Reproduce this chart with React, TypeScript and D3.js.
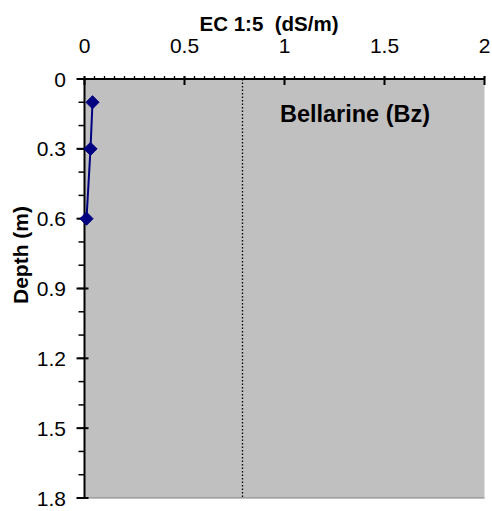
import React, { useEffect, useRef } from 'react';
import * as d3 from 'd3';

// EC 1:5 profile, Bellarine (Bz)
const depths = [0.1, 0.3, 0.6];
const ecValues = [0.04, 0.03, 0.01];
const xTicks = [0, 0.5, 1, 1.5, 2];
const yTicks = [0, 0.3, 0.6, 0.9, 1.2, 1.5, 1.8];
const refLine = 0.79;

const W = 492;
const H = 511;
const FONT = '"Liberation Sans", Arial, sans-serif';

const App: React.FC = () => {
  const svgRef = useRef<SVGSVGElement>(null);

  useEffect(() => {
    if (!svgRef.current) return;
    const el = svgRef.current;
    d3.select(el).selectAll('*').remove();
    const svg = d3.select(el);

    const left = 84.5;
    const right = 484.5;
    const top = 79;
    const bottom = 498;

    const x = d3.scaleLinear().domain([0, 2]).range([left, right]);
    const y = d3.scaleLinear().domain([0, 1.8]).range([top, bottom]);

    // Plot background
    svg
      .append('rect')
      .attr('x', left)
      .attr('y', top)
      .attr('width', right - left)
      .attr('height', bottom - top)
      .attr('fill', '#c0c0c0');

    // bottom edge
    svg
      .append('line')
      .attr('x1', left)
      .attr('x2', right)
      .attr('y1', bottom)
      .attr('y2', bottom)
      .attr('stroke', '#808080')
      .attr('stroke-width', 1);

    // Reference dotted line
    svg
      .append('line')
      .attr('x1', x(refLine))
      .attr('x2', x(refLine))
      .attr('y1', top)
      .attr('y2', bottom)
      .attr('stroke', '#000')
      .attr('stroke-width', 1.3)
      .attr('stroke-dasharray', '1.5,2');

    // Top axis (x)
    const minorX = d3.range(0, 2.0001, 0.05);
    svg
      .append('g')
      .selectAll('line')
      .data(minorX)
      .enter()
      .append('line')
      .attr('x1', (d) => x(d))
      .attr('x2', (d) => x(d))
      .attr('y1', top - 3)
      .attr('y2', top)
      .attr('stroke', '#000')
      .attr('stroke-width', 1.3);
    svg
      .append('g')
      .selectAll('line')
      .data(xTicks)
      .enter()
      .append('line')
      .attr('x1', (d) => x(d))
      .attr('x2', (d) => x(d))
      .attr('y1', top - 3)
      .attr('y2', top + 6)
      .attr('stroke', '#000')
      .attr('stroke-width', 2);
    svg
      .append('line')
      .attr('x1', left - 6)
      .attr('x2', right)
      .attr('y1', top)
      .attr('y2', top)
      .attr('stroke', '#000')
      .attr('stroke-width', 2);
    svg
      .append('g')
      .selectAll('text')
      .data(xTicks)
      .enter()
      .append('text')
      .attr('x', (d) => x(d))
      .attr('y', 53)
      .attr('text-anchor', 'middle')
      .attr('font-family', FONT)
      .attr('font-size', 21)
      .text((d) => String(d));

    // Left axis (y)
    const minorY = d3.range(0, 1.8001, 0.1);
    svg
      .append('g')
      .selectAll('line')
      .data(minorY)
      .enter()
      .append('line')
      .attr('x1', left - 6)
      .attr('x2', left)
      .attr('y1', (d) => y(d))
      .attr('y2', (d) => y(d))
      .attr('stroke', '#000')
      .attr('stroke-width', 1.5);
    svg
      .append('g')
      .selectAll('line')
      .data(yTicks)
      .enter()
      .append('line')
      .attr('x1', left - 8)
      .attr('x2', left + 4)
      .attr('y1', (d) => y(d))
      .attr('y2', (d) => y(d))
      .attr('stroke', '#000')
      .attr('stroke-width', 2);
    svg
      .append('line')
      .attr('x1', left)
      .attr('x2', left)
      .attr('y1', top)
      .attr('y2', bottom)
      .attr('stroke', '#000')
      .attr('stroke-width', 2);
    svg
      .append('g')
      .selectAll('text')
      .data(yTicks)
      .enter()
      .append('text')
      .attr('x', 66)
      .attr('y', (d) => y(d) + 7.5)
      .attr('text-anchor', 'end')
      .attr('font-family', FONT)
      .attr('font-size', 21)
      .text((d) => String(d));

    // Axis titles
    svg
      .append('text')
      .attr('x', 269)
      .attr('y', 30.5)
      .attr('text-anchor', 'middle')
      .attr('font-family', FONT)
      .attr('font-weight', 'bold')
      .attr('font-size', 20.5)
      .style('white-space', 'pre')
      .text('EC 1:5  (dS/m)');
    svg
      .append('text')
      .attr('transform', `translate(28,255) rotate(-90)`)
      .attr('text-anchor', 'middle')
      .attr('font-family', FONT)
      .attr('font-weight', 'bold')
      .attr('font-size', 21)
      .text('Depth (m)');

    // Site label
    svg
      .append('text')
      .attr('x', 355)
      .attr('y', 122)
      .attr('text-anchor', 'middle')
      .attr('font-family', FONT)
      .attr('font-weight', 'bold')
      .attr('font-size', 23.5)
      .text('Bellarine (Bz)');

    // Series
    const pts = depths.map((d, i) => ({ d, v: ecValues[i] }));
    const line = d3
      .line<{ d: number; v: number }>()
      .x((p) => x(p.v))
      .y((p) => y(p.d))
      .curve(d3.curveMonotoneY);
    svg
      .append('path')
      .datum(pts)
      .attr('d', line)
      .attr('fill', 'none')
      .attr('stroke', '#000080')
      .attr('stroke-width', 2);
    svg
      .append('g')
      .selectAll('path')
      .data(pts)
      .enter()
      .append('path')
      .attr('transform', (p) => `translate(${x(p.v)},${y(p.d)})`)
      .attr('d', d3.symbol().type(d3.symbolDiamond2).size(110)())
      .attr('fill', '#000080')
      .attr('stroke', '#000080')
      .attr('stroke-width', 1);
  }, []);

  return (
    <svg
      ref={svgRef}
      width={W}
      height={H}
      style={{ position: 'absolute', left: 0, top: 0, background: '#fff' }}
    />
  );
};

export default App;
